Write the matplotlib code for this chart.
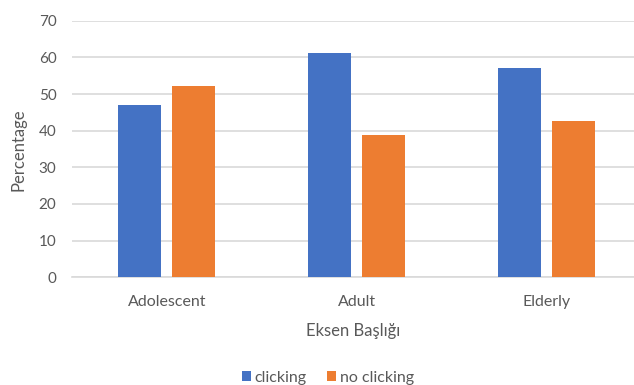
import matplotlib.pyplot as plt
import numpy as np

plt.rcParams['font.family'] = ['Lato', 'DejaVu Sans']

# Data
categories = ['Adolescent', 'Adult', 'Elderly']
clicking = [47.1, 61.1, 57.0]
no_clicking = [52.3, 38.7, 42.7]

blue = '#4472C4'
orange = '#ED7D31'
grey_text = '#595959'

fig = plt.figure(figsize=(6.34, 3.85), dpi=100)
# plot area runs past the right edge of the image (cropped screenshot)
left_px, right_px = 71.7, 634
ax = fig.add_axes([left_px / 634, (385 - 277.3) / 385,
                   (right_px - left_px) / 634, (277.3 - 20.7) / 385])

x = np.arange(len(categories))
bar_width = 0.226
offset = 0.142
ax.bar(x - offset, clicking, width=bar_width, color=blue, label='clicking', zorder=3)
ax.bar(x + offset, no_clicking, width=bar_width, color=orange, label='no clicking', zorder=3)

ax.set_xlim(-0.5, 2.458)
ax.set_ylim(0, 70)
ax.set_yticks(range(0, 71, 10))
ax.set_xticks(x)
ax.set_xticklabels(categories)
ax.grid(axis='y', color='#D9D9D9', linewidth=1.2, zorder=0)
ax.tick_params(axis='both', length=0, colors=grey_text)
ax.tick_params(axis='x', pad=13, labelsize=11.5)
ax.tick_params(axis='y', pad=11, labelsize=11)
for s in ['top', 'right', 'left']:
    ax.spines[s].set_visible(False)
ax.spines['bottom'].set_color('#D9D9D9')
ax.spines['bottom'].set_linewidth(1.2)

ax.set_xlabel('Eksen Başlığı', fontsize=12, color=grey_text, labelpad=10)
fig.text(18 / 634, 1 - 150 / 385, 'Percentage', rotation=90, fontsize=12,
         color=grey_text, ha='center', va='center')

fig.legend(loc='center', bbox_to_anchor=(328 / 634, 1 - 378 / 385), ncol=2,
           frameon=False, fontsize=11.5, handlelength=0.56, handleheight=0.56,
           handletextpad=0.2, columnspacing=1.3, labelcolor=grey_text)

fig.savefig('out.png', dpi=100)
